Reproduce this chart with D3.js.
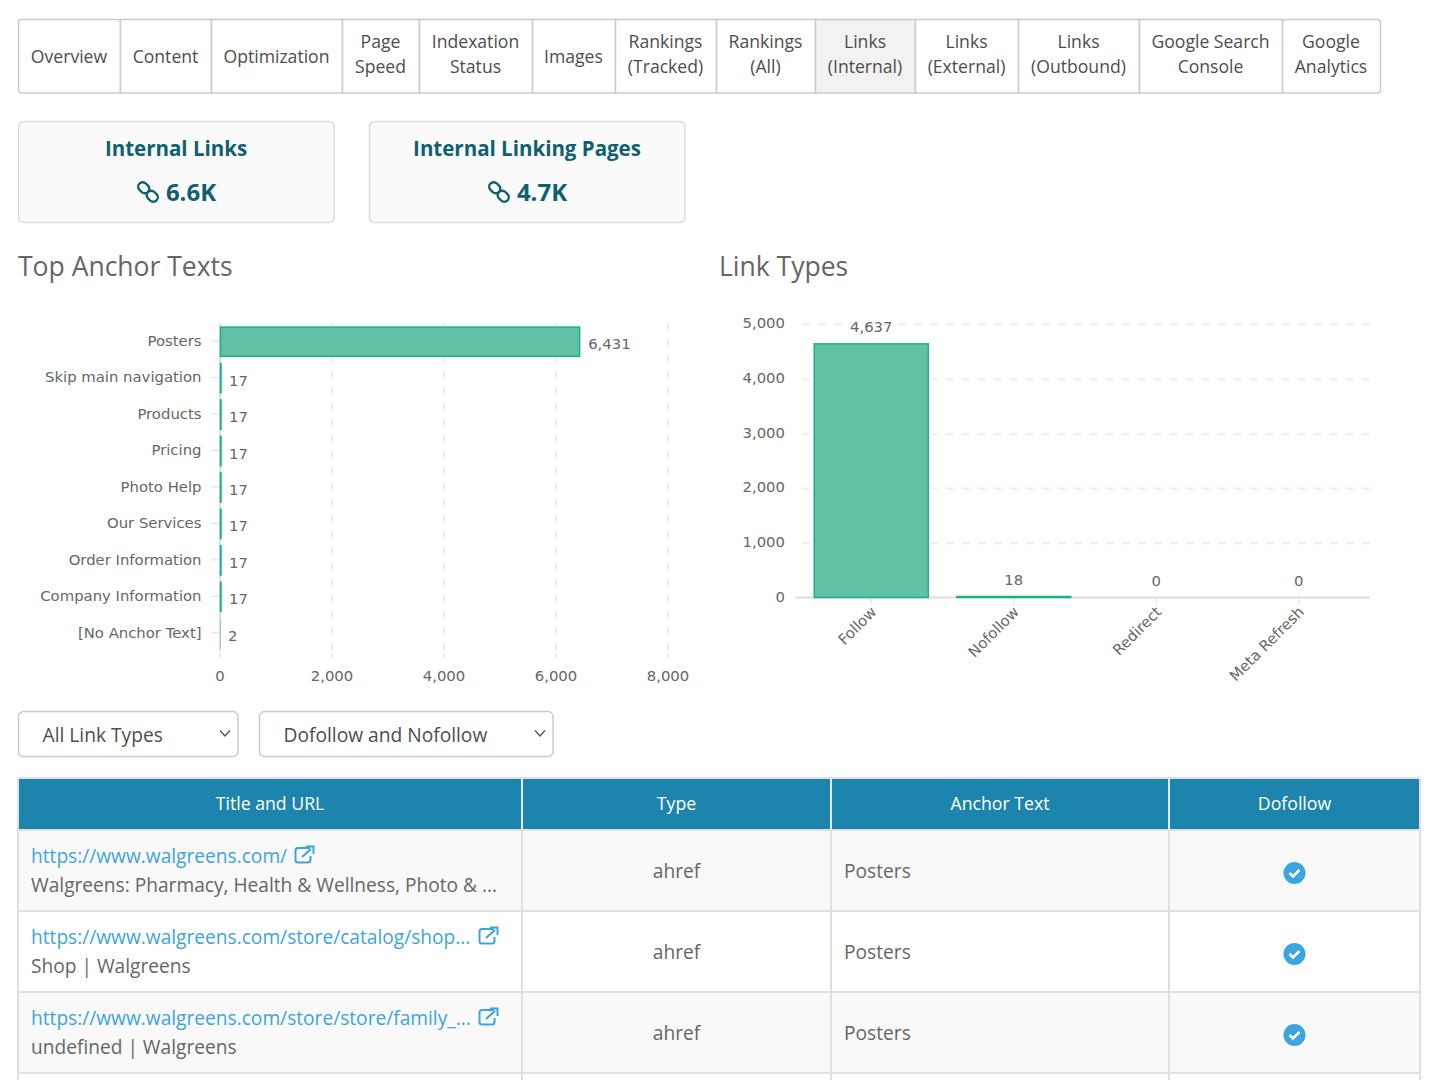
<!DOCTYPE html>
<html>
<head>
<meta charset="utf-8">
<script src="https://cdn.jsdelivr.net/npm/d3@7"></script>
<style>
  body { margin: 0; background: #fff; overflow: hidden; }
  svg { display: block; }
  text { font-family: "Open Sans", sans-serif; }
  .chart text { font-family: "DejaVu Sans", sans-serif; font-size: 14.85px; fill: #666; }
  .chart .domain { stroke: #ddd; stroke-width: 2px; }
  .chart .tick line { stroke: #ddd; }
  .grid .domain { display: none; }
  .grid .tick line { stroke: #eee; stroke-width: 2px; stroke-dasharray: 8 8; }
</style>
</head>
<body>
<div id="page"></div>
<script>
// tabs
var tabNames = [["Overview"], ["Content"], ["Optimization"], ["Page", "Speed"], ["Indexation", "Status"],
  ["Images"], ["Rankings", "(Tracked)"], ["Rankings", "(All)"], ["Links", "(Internal)"], ["Links", "(External)"],
  ["Links", "(Outbound)"], ["Google Search", "Console"], ["Google", "Analytics"]];
var activeTab = 8;

// cards
var cardTitles = ["Internal Links", "Internal Linking Pages"];
var cardValues = ["6.6K", "4.7K"];

// top anchor texts
var anchorNames = ["Posters", "Skip main navigation", "Products", "Pricing", "Photo Help",
  "Our Services", "Order Information", "Company Information", "[No Anchor Text]"];
var anchorValues = [6431, 17, 17, 17, 17, 17, 17, 17, 2];
var anchorTicks = [0, 2000, 4000, 6000, 8000];

// link types
var linkNames = ["Follow", "Nofollow", "Redirect", "Meta Refresh"];
var linkValues = [4637, 18, 0, 0];
var linkTicks = [0, 1000, 2000, 3000, 4000, 5000];

// filters
var filterLabels = ["All Link Types", "Dofollow and Nofollow"];

// table
var columnNames = ["Title and URL", "Type", "Anchor Text", "Dofollow"];
var rowUrls = ["https://www.walgreens.com/", "https://www.walgreens.com/store/catalog/shop...", "https://www.walgreens.com/store/store/family_..."];
var rowTitles = ["Walgreens: Pharmacy, Health & Wellness, Photo & ...", "Shop | Walgreens", "undefined | Walgreens"];
var rowTypes = ["ahref", "ahref", "ahref"];
var rowAnchors = ["Posters", "Posters", "Posters"];

// layout
var tabEdges = [18, 120, 211, 342, 419, 532, 615, 716, 815, 915, 1018, 1139, 1282, 1380];
var tabTop = 19, tabBottom = 92.5;
var columnEdges = [18, 522, 831, 1169, 1420];
var linkIconX = [304, 488, 488];

var textColor = "#666";
var borderColor = "#e0e0e0";
var teal = "#0f5f73";
var blue = "#3ba5e0";
var barFill = "#62c0a6";
var barStroke = "#17b48c";

var svg = d3.select("#page").append("svg")
  .attr("width", 1440)
  .attr("height", 1080);

// tab strip
var tabs = svg.append("g");
tabs.selectAll("rect")
  .data(tabNames)
  .enter()
  .append("rect")
  .attr("x", (d, i) => tabEdges[i] + 0.5)
  .attr("y", tabTop + 0.5)
  .attr("width", (d, i) => tabEdges[i + 1] - tabEdges[i])
  .attr("height", tabBottom - tabTop)
  .attr("rx", (d, i) => (i === 0 || i === tabNames.length - 1) ? 3 : 0)
  .attr("fill", (d, i) => i === activeTab ? "#f2f2f2" : "#fff")
  .attr("stroke", "#ccc")
  .attr("stroke-width", 1.5);

tabNames.forEach(function(lines, i) {
  var cx = (tabEdges[i] + tabEdges[i + 1]) / 2;
  lines.forEach(function(line, j) {
    tabs.append("text")
      .attr("x", cx)
      .attr("y", (lines.length === 1 ? 63 : 48) + j * 25)
      .attr("text-anchor", "middle")
      .attr("font-size", 17.6)
      .attr("fill", "#4d4d4d")
      .text(line);
  });
});

// chain icon, drawn around a centre point
function chainIcon(g, cx, cy) {
  var icon = g.append("g")
    .attr("transform", `translate(${cx}, ${cy}) rotate(45)`)
    .attr("fill", "none")
    .attr("stroke", teal)
    .attr("stroke-width", 2.4);
  icon.append("rect").attr("x", -12).attr("y", -4.5).attr("width", 12).attr("height", 9).attr("rx", 4.5);
  icon.append("rect").attr("x", 0).attr("y", -4.5).attr("width", 12).attr("height", 9).attr("rx", 4.5);
}

// summary cards
var cardX = [18, 369];
cardTitles.forEach(function(title, i) {
  var g = svg.append("g");
  var cx = cardX[i] + 158;
  g.append("rect")
    .attr("x", cardX[i] + 0.5).attr("y", 121.5)
    .attr("width", 315.5).attr("height", 101)
    .attr("rx", 5)
    .attr("fill", "#fafafa")
    .attr("stroke", "#ddd")
    .attr("stroke-width", 1.5);
  g.append("text")
    .attr("x", cx).attr("y", 156)
    .attr("text-anchor", "middle")
    .attr("font-size", 20.5)
    .attr("font-weight", 700)
    .attr("fill", teal)
    .text(title);
  g.append("text")
    .attr("x", cx + 15).attr("y", 201)
    .attr("text-anchor", "middle")
    .attr("font-size", 24)
    .attr("font-weight", 700)
    .attr("fill", teal)
    .text(cardValues[i]);
  chainIcon(g, cx - 28, 192);
});

// section titles
svg.append("text").attr("x", 18).attr("y", 276).attr("font-size", 26.5).attr("fill", textColor).text("Top Anchor Texts");
svg.append("text").attr("x", 719).attr("y", 276).attr("font-size", 26.5).attr("fill", textColor).text("Link Types");

// horizontal bar chart
var anchorChart = svg.append("g").attr("class", "chart");

var xAnchor = d3.scaleLinear()
  .domain([0, 8000])
  .range([219.5, 667.5]);

var yAnchor = d3.scaleBand()
  .domain(anchorNames)
  .range([323, 651])
  .paddingInner(0.17)
  .paddingOuter(0.085);

anchorChart.append("g")
  .attr("class", "grid")
  .attr("transform", "translate(0, 323)")
  .call(d3.axisBottom(xAnchor).tickValues(anchorTicks.slice(1)).tickSize(330).tickFormat(""));

var leftAxis = anchorChart.append("g")
  .attr("transform", `translate(${xAnchor(0)}, 0)`)
  .call(d3.axisLeft(yAnchor).tickSize(8).tickSizeOuter(0).tickPadding(10));

var bottomAxis = anchorChart.append("g")
  .attr("transform", "translate(0, 653)")
  .call(d3.axisBottom(xAnchor).tickValues(anchorTicks).tickSize(5).tickPadding(12).tickFormat(d3.format(",")));
bottomAxis.select(".domain").remove();

anchorChart.selectAll("rect.bar")
  .data(anchorValues)
  .enter()
  .append("rect")
  .attr("class", "bar")
  .attr("x", xAnchor(0) + 1)
  .attr("y", (d, i) => yAnchor(anchorNames[i]) + 1)
  .attr("width", d => Math.max(xAnchor(d) - xAnchor(0) - 1, 0.5))
  .attr("height", yAnchor.bandwidth() - 1)
  .attr("fill", barFill)
  .attr("stroke", d => d > 2 ? barStroke : "none")
  .attr("stroke-width", 1.5);

anchorChart.selectAll("text.value")
  .data(anchorValues)
  .enter()
  .append("text")
  .attr("class", "value")
  .attr("x", d => xAnchor(d) + 8.5)
  .attr("y", (d, i) => yAnchor(anchorNames[i]) + yAnchor.bandwidth() / 2 + 8)
  .text(d3.format(","));

// vertical bar chart
var linkChart = svg.append("g").attr("class", "chart");

var xLink = d3.scaleBand()
  .domain(linkNames)
  .range([800, 1370])
  .paddingInner(0.2)
  .paddingOuter(0.1);

var yLink = d3.scaleLinear()
  .domain([0, 5000])
  .range([597.5, 324]);

linkChart.append("g")
  .attr("class", "grid")
  .attr("transform", "translate(1370, 0)")
  .call(d3.axisLeft(yLink).tickValues(linkTicks.slice(1)).tickSize(575).tickFormat(""));

var linkLeft = linkChart.append("g")
  .attr("transform", "translate(795, -1)")
  .call(d3.axisLeft(yLink).tickValues(linkTicks).tickSize(0).tickPadding(10).tickFormat(d3.format(",")));
linkLeft.select(".domain").remove();

var linkBottom = linkChart.append("g")
  .attr("transform", `translate(0, ${yLink(0)})`)
  .call(d3.axisBottom(xLink).tickSize(6).tickPadding(7));
linkBottom.select(".domain").attr("d", "M795,0H1370");
linkBottom.selectAll(".tick text")
  .attr("text-anchor", "end")
  .attr("dx", "4")
  .attr("dy", "10")
  .attr("transform", "translate(-13, 2) rotate(-45)");

linkChart.selectAll("rect.bar")
  .data(linkValues)
  .enter()
  .append("rect")
  .attr("class", "bar")
  .attr("x", (d, i) => xLink(linkNames[i]))
  .attr("y", d => yLink(d))
  .attr("width", xLink.bandwidth())
  .attr("height", d => yLink(0) - yLink(d))
  .attr("fill", barFill)
  .attr("stroke", d => d > 0 ? barStroke : "none")
  .attr("stroke-width", 1.5);

linkChart.selectAll("text.value")
  .data(linkValues)
  .enter()
  .append("text")
  .attr("class", "value")
  .attr("x", (d, i) => xLink(linkNames[i]) + xLink.bandwidth() / 2)
  .attr("y", d => yLink(d) - 12)
  .attr("text-anchor", "middle")
  .text(d3.format(","));

// filter dropdowns
var filterX = [18, 259];
var filterW = [219.5, 293.5];
filterLabels.forEach(function(label, i) {
  var g = svg.append("g");
  g.append("rect")
    .attr("x", filterX[i] + 0.5).attr("y", 711.5)
    .attr("width", filterW[i]).attr("height", 45)
    .attr("rx", 5)
    .attr("fill", "#fff")
    .attr("stroke", "#ccc")
    .attr("stroke-width", 1.5);
  g.append("text")
    .attr("x", filterX[i] + 24.5).attr("y", 742)
    .attr("font-size", 19.2)
    .attr("fill", "#4d4d4d")
    .text(label);
  var cx = filterX[i] + filterW[i] - 12.5;
  g.append("path")
    .attr("d", `M${cx - 5},730.5L${cx},736L${cx + 5},730.5`)
    .attr("fill", "none")
    .attr("stroke", "#555")
    .attr("stroke-width", 1.4);
});

// table header
var rowHeight = 81, headTop = 778, headBottom = 830;
var tableRight = columnEdges[columnEdges.length - 1];

svg.append("rect")
  .attr("x", 18).attr("y", headTop)
  .attr("width", tableRight - 18).attr("height", headBottom - headTop)
  .attr("fill", "#1d85ad");

columnNames.forEach(function(name, i) {
  svg.append("text")
    .attr("x", (columnEdges[i] + columnEdges[i + 1]) / 2)
    .attr("y", 810)
    .attr("text-anchor", "middle")
    .attr("font-size", 17.7)
    .attr("fill", "#fff")
    .text(name);
});

// table rows
rowUrls.forEach(function(url, i) {
  var top = headBottom + i * rowHeight;
  var g = svg.append("g");
  g.append("rect")
    .attr("x", 18).attr("y", top)
    .attr("width", tableRight - 18).attr("height", rowHeight)
    .attr("fill", i % 2 === 0 ? "#f9f9f9" : "#fff");
  g.append("text")
    .attr("x", 31).attr("y", top + 33)
    .attr("font-size", 19.15)
    .attr("fill", blue)
    .text(url);
  g.append("text")
    .attr("x", 31).attr("y", top + 62)
    .attr("font-size", 19.15)
    .attr("fill", textColor)
    .text(rowTitles[i]);
  g.append("text")
    .attr("x", (columnEdges[1] + columnEdges[2]) / 2).attr("y", top + 48)
    .attr("text-anchor", "middle")
    .attr("font-size", 19.2)
    .attr("fill", textColor)
    .text(rowTypes[i]);
  g.append("text")
    .attr("x", columnEdges[2] + 13).attr("y", top + 48)
    .attr("font-size", 19.2)
    .attr("fill", textColor)
    .text(rowAnchors[i]);

  // external link icon
  var ix = linkIconX[i], iy = top + 25;
  g.append("path")
    .attr("d", `M${ix + 6},${iy - 7}H${ix - 6}a2.5,2.5 0 0 0 -2.5,2.5V${iy + 5}a2.5,2.5 0 0 0 2.5,2.5H${ix + 4}a2.5,2.5 0 0 0 2.5,-2.5V${iy + 1}`)
    .attr("fill", "none")
    .attr("stroke", blue)
    .attr("stroke-width", 2);
  g.append("path")
    .attr("d", `M${ix - 2},${iy + 2}L${ix + 7},${iy - 6}M${ix + 2},${iy - 8.5}H${ix + 9.5}V${iy - 1}`)
    .attr("fill", "none")
    .attr("stroke", blue)
    .attr("stroke-width", 2);

  // check badge
  var cx = (columnEdges[3] + columnEdges[4]) / 2, cy = top + 43;
  g.append("circle").attr("cx", cx).attr("cy", cy).attr("r", 11).attr("fill", blue);
  g.append("path")
    .attr("d", `M${cx - 5},${cy}L${cx - 1.5},${cy + 3.5}L${cx + 5},${cy - 3}`)
    .attr("fill", "none")
    .attr("stroke", "#fff")
    .attr("stroke-width", 2.6);
});

// table rules
var ruleY = d3.range(0, rowUrls.length + 1).map(i => headBottom + i * rowHeight);
svg.selectAll("line.row")
  .data(ruleY)
  .enter()
  .append("line")
  .attr("class", "row")
  .attr("x1", 18).attr("x2", tableRight)
  .attr("y1", d => d).attr("y2", d => d)
  .attr("stroke", borderColor)
  .attr("stroke-width", 2);

svg.selectAll("line.col")
  .data(columnEdges)
  .enter()
  .append("line")
  .attr("class", "col")
  .attr("x1", d => d).attr("x2", d => d)
  .attr("y1", headTop).attr("y2", 1080)
  .attr("stroke", borderColor)
  .attr("stroke-width", 2);

svg.selectAll("line.headcol")
  .data(columnEdges.slice(1, 4))
  .enter()
  .append("line")
  .attr("class", "headcol")
  .attr("x1", d => d).attr("x2", d => d)
  .attr("y1", headTop).attr("y2", headBottom)
  .attr("stroke", "#e6f1f5")
  .attr("stroke-width", 1.5);

svg.append("line")
  .attr("x1", 18).attr("x2", tableRight)
  .attr("y1", headTop).attr("y2", headTop)
  .attr("stroke", borderColor)
  .attr("stroke-width", 2);
</script>
</body>
</html>
